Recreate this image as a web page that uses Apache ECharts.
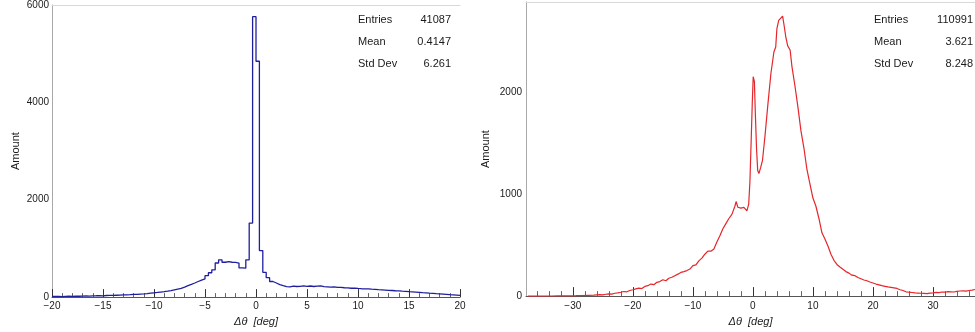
<!DOCTYPE html>
<html><head><meta charset="utf-8">
<script src="https://cdn.jsdelivr.net/npm/echarts@6/dist/echarts.min.js"></script>
<style>html,body{margin:0;padding:0;background:#fff}#c{width:975px;height:332px}</style>
</head><body><div id="c"></div>
<script>
// ---------- Left histogram (blue): 120 bins of 1/3 deg on [-20, 20] ----------
const leftLow = -20;
const leftHigh = 20;
const leftCounts = [
  12, 15, 10,   14, 18, 16,   20, 17, 22,   24, 22, 27,   28, 30, 26,
  33, 36, 34,   38, 42, 45,   46, 50, 55,   58, 63, 66,   72, 80, 88,
  95, 104, 112, 122, 135, 150, 165, 180, 205, 237, 262, 290, 320, 350, 372,
  440, 500, 560, 700, 765, 716, 730, 716, 712, 700, 600, 595, 765, 1520, 5760,
  4845, 955, 508, 400, 320, 290, 258, 235, 215, 210, 225, 218, 220, 230, 222,
  228, 218, 225, 232, 215, 210, 205, 212, 198, 200, 192, 188, 182, 185, 178,
  172, 168, 170, 162, 158, 152, 150, 145, 140, 136, 130, 128, 122, 118, 112,
  108, 104, 98,  92, 88, 82,    78, 72, 68,   62, 56, 50,   45, 40, 35
];
const leftXTicks = [-20, -15, -10, -5, 0, 5, 10, 15, 20];
const leftYTicks = [0, 2000, 4000, 6000];
const leftStats = [['Entries', '41087'], ['Mean', '0.4147'], ['Std Dev', '6.261']];

// ---------- Right distribution (red) ----------
const rightX = [
  -37.5, -36.5, -35.5, -34.5, -33.5, -32.5, -31.5, -30.5, -29.5, -28.5, -27.5, -26.5,
  -25.5, -25, -24.5, -24, -23.5, -23, -22.5, -22, -21.5, -21, -20.5, -20, -19.5, -19,
  -18.5, -18, -17.5, -17, -16.5, -16, -15.5, -15, -14.5, -14, -13.5, -13, -12.5, -12,
  -11.5, -11, -10.5, -10, -9.5, -9, -8.5, -8, -7.5, -7, -6.5, -6, -5.5, -5, -4.5, -4,
  -3.5, -3, -2.8, -2.5, -2, -1.5, -1, -0.7, -0.5, -0.3, -0.1, 0.05, 0.25, 0.4, 0.6, 0.8,
  1.0, 1.3, 1.6, 2.0, 2.5, 3.0, 3.5, 3.8, 4.0, 4.3, 4.6, 4.95, 5.2, 5.5, 5.8, 6.2, 6.5,
  7.0, 7.5, 8.0, 8.5, 9.0, 9.5, 10.0, 10.5, 11.0, 11.5, 12.0, 12.5, 13.0, 13.5, 14.0,
  14.5, 15.0, 15.5, 16.0, 16.5, 17.0, 17.5, 18.0, 18.5, 19.0, 19.5, 20.0, 20.5, 21.0,
  21.5, 22.0, 22.5, 23.0, 23.5, 24.0, 24.5, 25.0, 25.5, 26.0, 26.5, 27.0, 27.5, 28.0,
  28.5, 29.0, 29.5, 30.0, 30.5, 31.0, 31.5, 32.0, 32.5, 33.0, 33.5, 34.0, 34.5, 35.0,
  35.5, 36.0, 36.5, 37.0
];
const rightY = [
  0, 0, 1, 0, 1, 2, 2, 3, 4, 6, 8, 10,
  14, 12, 18, 22, 20, 28, 32, 38, 45, 42, 55, 62, 70, 78,
  74, 95, 102, 118, 112, 135, 142, 160, 150, 175, 185, 200, 215, 232,
  240, 250, 265, 298, 305, 345, 372, 410, 440, 440, 462, 530, 590, 660, 710, 760,
  800, 880, 926, 870, 862, 868, 835, 900, 1117, 1500, 1900, 2148, 2100, 1800, 1450, 1230,
  1200, 1260, 1330, 1560, 1880, 2180, 2390, 2440, 2620, 2700, 2710, 2742, 2650, 2530, 2450, 2410, 2250,
  2060, 1850, 1620, 1450, 1240, 1100, 960, 880, 760, 620, 560, 490, 410, 350, 310,
  285, 262, 240, 225, 205, 200, 182, 170, 158, 150, 138, 128, 118, 110,
  102, 96, 90, 85, 80, 75, 62, 55, 42, 38, 35, 32, 30, 28,
  27, 25, 30, 32, 36, 34, 40, 38, 44, 42, 40, 46, 50, 52,
  48, 55, 58, 65
];
const rightXTicks = [-30, -20, -10, 0, 10, 20, 30];
const rightXMinorTicks = [-36, -34, -32, -28, -26, -24, -22, -18, -16, -14, -12, -8, -6, -4, -2,
  2, 4, 6, 8, 12, 14, 16, 18, 22, 24, 26, 28, 32, 34, 36];
const rightYTicks = [0, 1000, 2000];
const rightStats = [['Entries', '110991'], ['Mean', '3.621'], ['Std Dev', '8.248']];

// ---------- build ----------
const FONT = 'Liberation Sans, Arial, Helvetica, sans-serif';
const fmt = v => String(v).replace('-', '\u2212');
const leftWidth = (leftHigh - leftLow) / leftCounts.length;
const leftPts = leftCounts.map((v, i) => [leftLow + i * leftWidth, v]);
leftPts.push([leftHigh, leftCounts[leftCounts.length - 1]]);
const rightPts = rightX.map((x, i) => [x, rightY[i]]);

const chart = echarts.init(document.getElementById('c'), null, { renderer: 'canvas' });

const labelStyle = { fontSize: 10, color: '#1a1a1a', fontFamily: FONT };
const nameStyle = { fontSize: 11, color: '#1a1a1a', fontFamily: FONT };
const xNameStyle = { fontSize: 11, color: '#1a1a1a', fontFamily: FONT, fontStyle: 'italic' };

function topBorder(gi, min, max) {
  return { type: 'value', gridIndex: gi, position: 'top', min, max,
    axisLine: { show: true, onZero: false, lineStyle: { color: '#d8d8d8', width: 1 } },
    axisTick: { show: false }, axisLabel: { show: false }, splitLine: { show: false } };
}

function statsGraphics(stats, labelLeft, valueRight) {
  const g = [];
  stats.forEach((s, i) => {
    g.push({ type: 'text', left: labelLeft, top: 14 + i * 22,
      style: { text: s[0], font: '11px ' + FONT, fill: '#1a1a1a' } });
    g.push({ type: 'text', right: valueRight, top: 14 + i * 22,
      style: { text: s[1], font: '11px ' + FONT, fill: '#1a1a1a', textAlign: 'right' } });
  });
  return g;
}

const option = {
  backgroundColor: '#fff',
  animation: false,
  grid: [
    { left: 52, top: 5, width: 408, bottom: 31 },
    { left: 526, top: 2, right: 0, bottom: 28 }
  ],
  xAxis: [
    { type: 'value', gridIndex: 0, min: leftLow, max: leftHigh, interval: 5,
      axisLine: { show: true, onZero: false, lineStyle: { color: '#555', width: 1 } },
      axisTick: { show: true, inside: true, length: 8, lineStyle: { color: '#333' } },
      minorTick: { show: true, splitNumber: 5, length: 4, lineStyle: { color: '#666' } },
      splitLine: { show: false },
      axisLabel: Object.assign({ margin: 4, formatter: fmt, customValues: leftXTicks }, labelStyle),
      name: '\u0394\u03b8  [deg]', nameLocation: 'middle', nameGap: 15, nameTextStyle: xNameStyle },
    topBorder(0, leftLow, leftHigh),
    { type: 'value', gridIndex: 1, min: -37.8, max: 37.0,
      axisLine: { show: true, onZero: false, lineStyle: { color: '#555', width: 1 } },
      axisTick: { show: true, inside: true, length: 9, customValues: rightXTicks, lineStyle: { color: '#333' } },
      splitLine: { show: false },
      axisLabel: Object.assign({ margin: 5, formatter: fmt, customValues: rightXTicks }, labelStyle),
      name: '\u0394\u03b8  [deg]', nameLocation: 'middle', nameGap: 16, nameTextStyle: xNameStyle },
    { type: 'value', gridIndex: 1, min: -37.8, max: 37.0, position: 'bottom',
      axisLine: { show: false, onZero: false },
      axisTick: { show: true, inside: true, length: 5, customValues: rightXMinorTicks, lineStyle: { color: '#666' } },
      axisLabel: { show: false }, splitLine: { show: false } },
    topBorder(1, -37.8, 37.0)
  ],
  yAxis: [
    { type: 'value', gridIndex: 0, min: 0, max: 6000, interval: 2000,
      axisLine: { show: true, onZero: false, lineStyle: { color: '#a8a8a8', width: 1 } },
      axisTick: { show: false }, splitLine: { show: false },
      axisLabel: Object.assign({ margin: 3, formatter: fmt, customValues: leftYTicks }, labelStyle),
      name: 'Amount', nameLocation: 'middle', nameGap: 31, nameRotate: 90, nameTextStyle: nameStyle },
    { type: 'value', gridIndex: 1, min: 0, max: 2880,
      axisLine: { show: true, onZero: false, lineStyle: { color: '#a8a8a8', width: 1 } },
      axisTick: { show: false }, splitLine: { show: false },
      axisLabel: Object.assign({ margin: 4, formatter: fmt, customValues: rightYTicks }, labelStyle),
      name: 'Amount', nameLocation: 'middle', nameGap: 35, nameRotate: 90, nameTextStyle: nameStyle }
  ],
  series: [
    { type: 'line', xAxisIndex: 0, yAxisIndex: 0, data: leftPts, step: 'end',
      showSymbol: false, symbol: 'none', lineStyle: { color: '#1f1f9e', width: 1.3 } },
    { type: 'line', xAxisIndex: 2, yAxisIndex: 1, data: rightPts,
      showSymbol: false, symbol: 'none', lineStyle: { color: '#e5262b', width: 1.2 } }
  ],
  graphic: statsGraphics(leftStats, 358, 524).concat(statsGraphics(rightStats, 874, 2))
};
chart.setOption(option);
</script>
</body></html>
